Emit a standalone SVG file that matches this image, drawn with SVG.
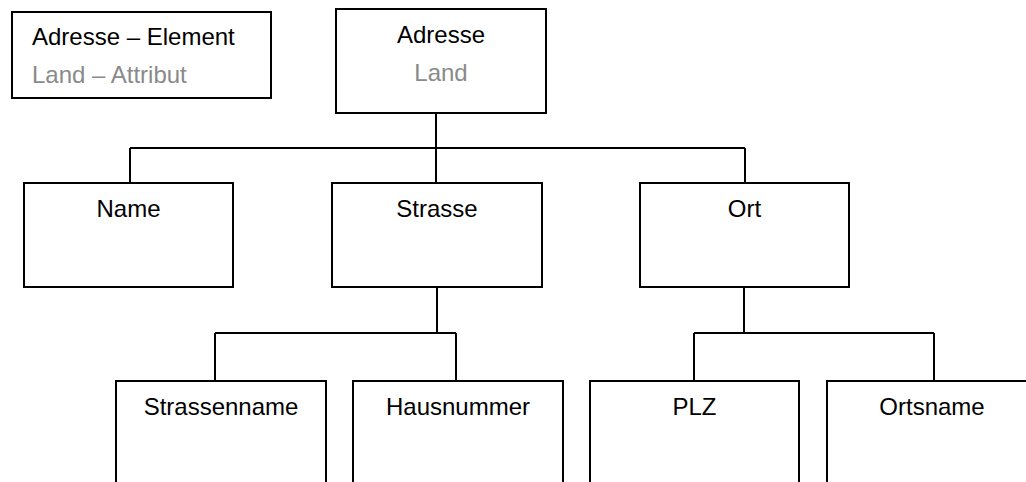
<svg xmlns="http://www.w3.org/2000/svg" width="1026" height="482" viewBox="0 0 1026 482">
<style>
.box{fill:#fff;stroke:#000;stroke-width:2}
.t{font-family:"Liberation Sans",Arial,sans-serif;font-size:24px;fill:#000}
.c{text-anchor:middle}
.g{fill:#8a8a8a}
.conn path{fill:none;stroke:#000;stroke-width:2}
</style>
<rect width="1026" height="482" fill="#fff"/>
<g class="conn" id="connectors">
<path d="M436 113V148M130 148H745M130 148V183M436 148V183M745 148V183"/>
<path d="M437 287V333M215 333H456M215 333V381M456 333V381"/>
<path d="M744 287V333M694 333H934M694 333V381M934 333V381"/>
</g>
<g id="legend">
<rect class="box" x="12" y="12" width="259" height="86"/>
<text class="t" x="32" y="45">Adresse – Element</text>
<text class="t g" x="32" y="83">Land – Attribut</text>
</g>
<g id="adresse">
<rect class="box" x="336" y="9" width="210" height="104"/>
<text class="t c" x="441" y="43">Adresse</text>
<text class="t c g" x="441" y="81">Land</text>
</g>
<g id="name">
<rect class="box" x="24" y="183" width="209" height="104"/>
<text class="t c" x="128.5" y="217">Name</text>
</g>
<g id="strasse">
<rect class="box" x="332" y="183" width="210" height="104"/>
<text class="t c" x="437" y="217">Strasse</text>
</g>
<g id="ort">
<rect class="box" x="640" y="183" width="209" height="104"/>
<text class="t c" x="744.5" y="217">Ort</text>
</g>
<g id="strassenname">
<rect class="box" x="116" y="381" width="210" height="112"/>
<text class="t c" x="221" y="415">Strassenname</text>
</g>
<g id="hausnummer">
<rect class="box" x="353" y="381" width="210" height="112"/>
<text class="t c" x="458" y="415">Hausnummer</text>
</g>
<g id="plz">
<rect class="box" x="590" y="381" width="209" height="112"/>
<text class="t c" x="694.5" y="415">PLZ</text>
</g>
<g id="ortsname">
<rect class="box" x="827" y="381" width="210" height="112"/>
<text class="t c" x="932" y="415">Ortsname</text>
</g>
</svg>
